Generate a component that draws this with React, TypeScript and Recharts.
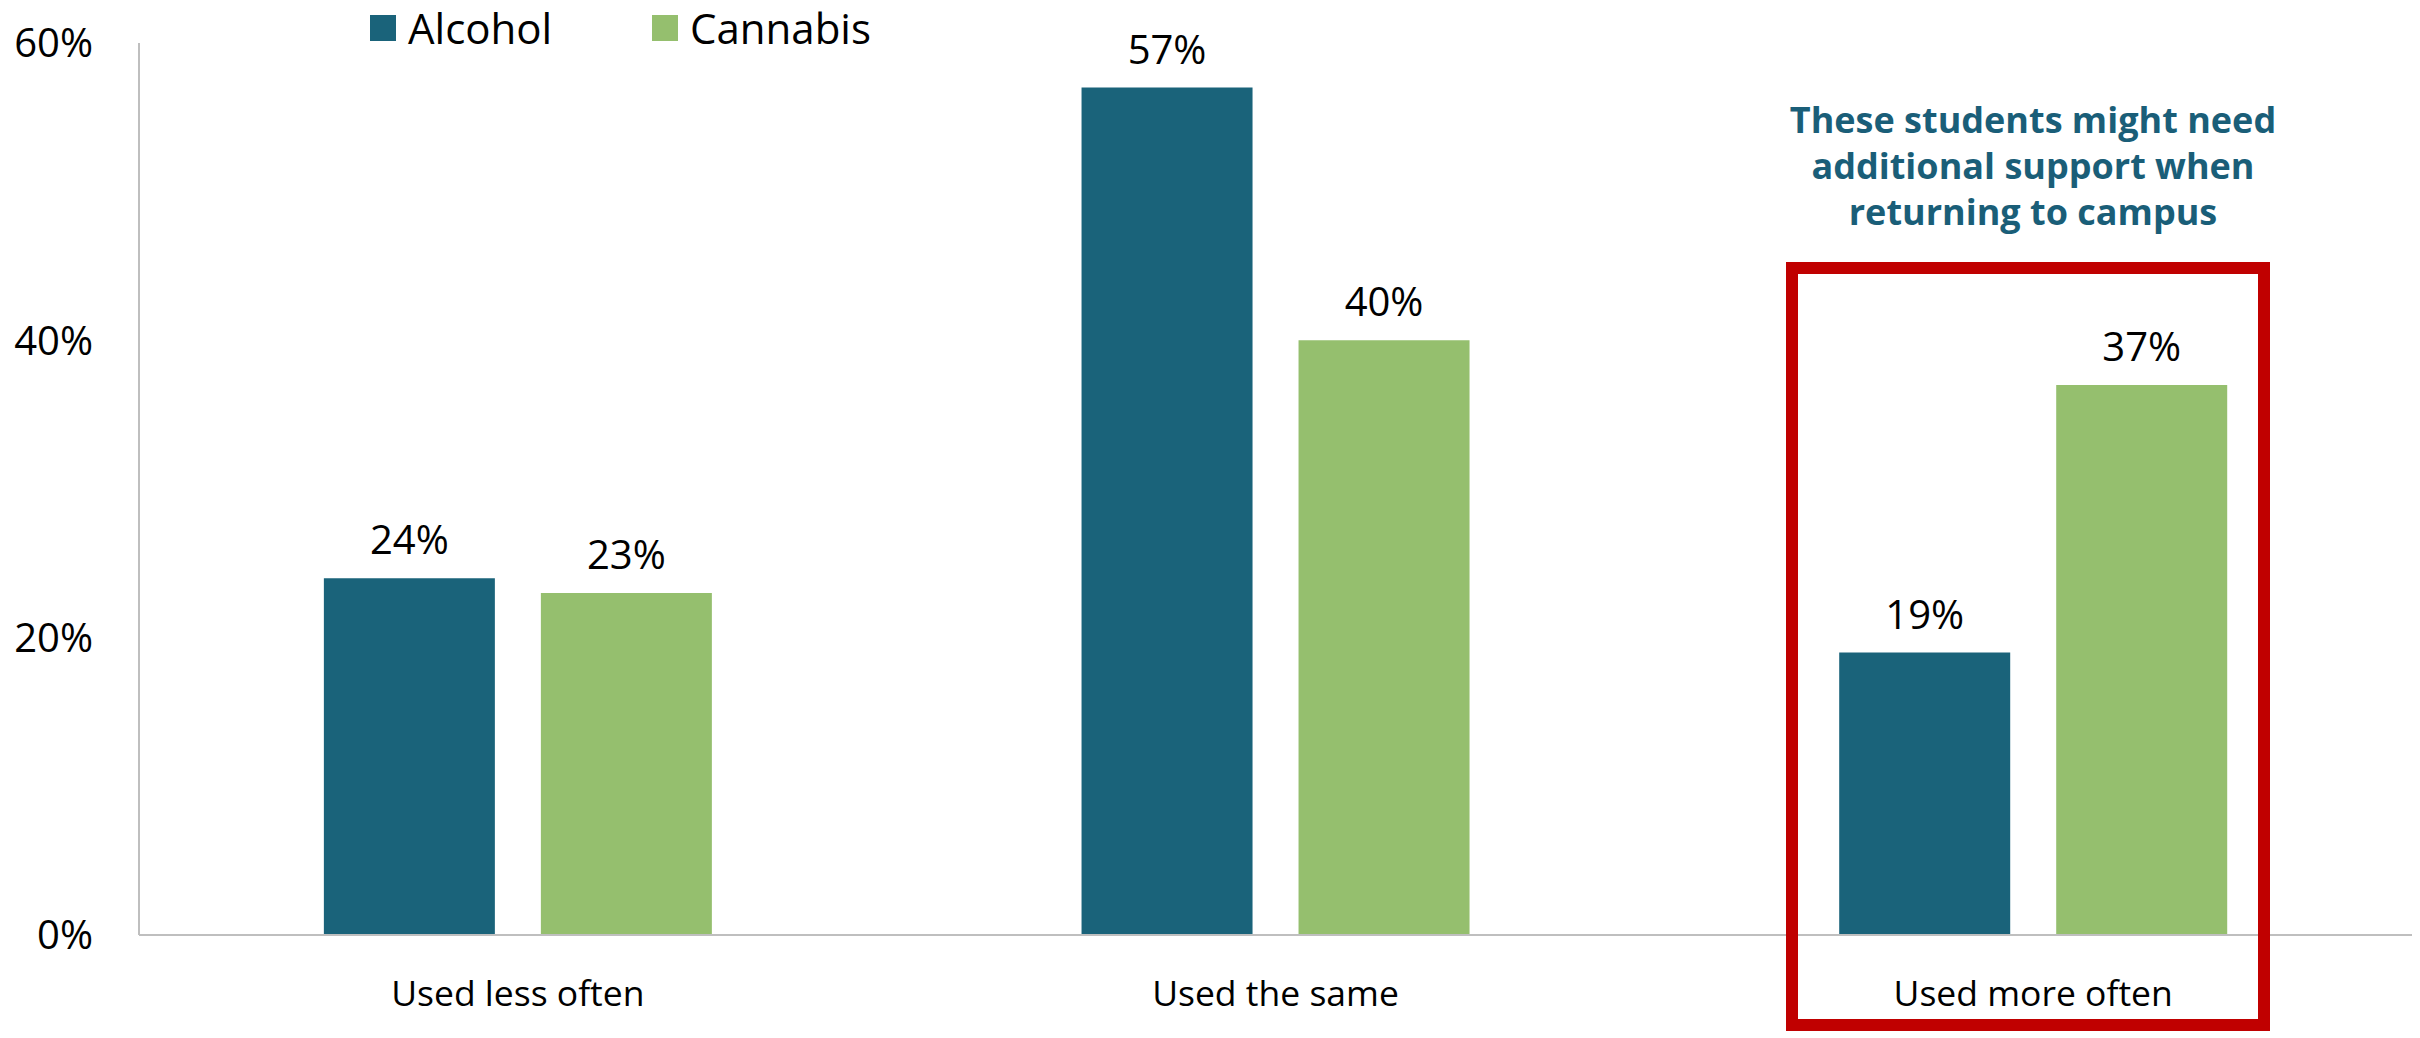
import { BarChart, Bar, XAxis, YAxis, LabelList } from 'recharts'

const categories = ['Used less often', 'Used the same', 'Used more often']
const alcohol = [24, 57, 19]
const cannabis = [23, 40, 37]
const yTicks = [0, 20, 40, 60]
const note = ['These students might need', 'additional support when', 'returning to campus']

const ALCOHOL = '#1a637a'
const CANNABIS = '#95bf6e'
const FONT = '"Open Sans", "Noto Sans", sans-serif'

const data = categories.map((c, i) => ({ name: c, alcohol: alcohol[i], cannabis: cannabis[i] }))

function LegendBox() {
  const items = [
    { label: 'Alcohol', color: ALCOHOL, left: 370 },
    { label: 'Cannabis', color: CANNABIS, left: 652 },
  ]
  return (
    <>
      {items.map(it => (
        <div key={it.label} style={{ position: 'absolute', left: it.left, top: 0, display: 'flex', alignItems: 'center', height: 56, fontFamily: FONT }}>
          <span style={{ width: 26, height: 26, background: it.color, display: 'inline-block', marginRight: 12 }} />
          <span style={{ fontSize: 42, color: '#000', lineHeight: '56px' }}>{it.label}</span>
        </div>
      ))}
    </>
  )
}

export default function App() {
  return (
    <div style={{ position: 'absolute', left: 0, top: 0, width: 2420, height: 1038, background: '#fff' }}>
      <style>{'body{margin:0}'}</style>
      <BarChart
        width={2420}
        height={1038}
        data={data}
        margin={{ top: 43, right: 8, left: 0, bottom: 0 }}
        barGap={46}
        barCategoryGap="24.4%"
      >
        <XAxis
          dataKey="name"
          height={103}
          tickLine={false}
          axisLine={{ stroke: '#bfbfbf', strokeWidth: 2 }}
          tickMargin={40}
          tick={{ fill: '#000', fontSize: 35.5, fontFamily: FONT }}
        />
        <YAxis
          width={139}
          domain={[0, 60]}
          ticks={yTicks}
          tickFormatter={v => `${v}%`}
          tickLine={false}
          axisLine={{ stroke: '#bfbfbf', strokeWidth: 2 }}
          tickMargin={40}
          tick={{ fill: '#000', fontSize: 40, fontFamily: FONT }}
        />
        <Bar dataKey="alcohol" name="Alcohol" fill={ALCOHOL} isAnimationActive={false}>
          <LabelList dataKey="alcohol" position="top" offset={24} formatter={(v: any) => `${v}%`} style={{ fill: '#000', fontSize: 40, fontFamily: FONT }} />
        </Bar>
        <Bar dataKey="cannabis" name="Cannabis" fill={CANNABIS} isAnimationActive={false}>
          <LabelList dataKey="cannabis" position="top" offset={24} formatter={(v: any) => `${v}%`} style={{ fill: '#000', fontSize: 40, fontFamily: FONT }} />
        </Bar>
      </BarChart>
      <LegendBox />
      <div
        style={{
          position: 'absolute', left: 1773, top: 97, width: 520, textAlign: 'center',
          fontFamily: FONT, fontWeight: 700, fontSize: 36, lineHeight: '46px', color: '#1a5e78',
        }}
      >
        {note.map(l => <div key={l}>{l}</div>)}
      </div>
      <div
        style={{
          position: 'absolute', left: 1786, top: 262, width: 484, height: 769,
          border: '12px solid #c00000', boxSizing: 'border-box', pointerEvents: 'none',
        }}
      />
    </div>
  )
}
